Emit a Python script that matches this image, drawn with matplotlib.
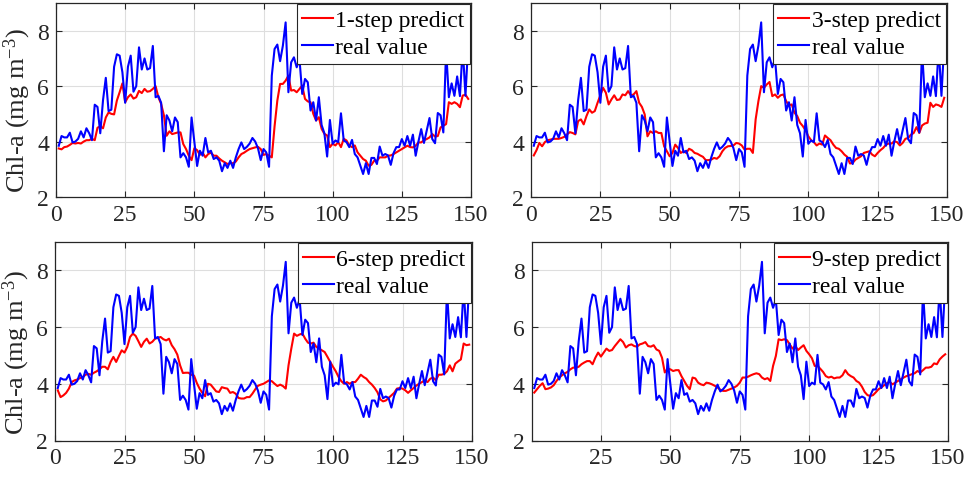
import numpy as np
import matplotlib
matplotlib.use('Agg')
import matplotlib.pyplot as plt

plt.rcParams['font.family'] = ['Liberation Serif', 'DejaVu Serif']
plt.rcParams['mathtext.fontset'] = 'custom'
plt.rcParams['mathtext.rm'] = 'Liberation Serif'
plt.rcParams['mathtext.it'] = 'Liberation Serif:italic'
plt.rcParams['axes.unicode_minus'] = True

# ---------------- data ----------------
real_value = [
    3.85, 4.20, 4.15, 4.15, 4.32, 3.97, 4.00, 4.10, 4.37, 4.15,
    4.48, 4.30, 4.05, 5.33, 5.25, 4.30, 5.50, 6.30, 5.10, 5.15,
    6.70, 7.15, 7.10, 6.50, 5.40, 6.70, 7.10, 5.80, 6.00, 7.40,
    6.60, 7.00, 6.60, 6.65, 7.45, 5.60, 5.65, 5.40, 3.65, 4.95,
    4.76, 4.37, 4.87, 4.70, 3.43, 3.58, 3.43, 3.09, 4.87, 4.00,
    3.12, 3.67, 3.49, 4.13, 3.61, 3.67, 3.37, 3.43, 3.31, 2.93,
    3.22, 3.05, 3.31, 3.05, 3.43, 3.73, 3.97, 3.73, 3.81, 3.93,
    4.13, 4.00, 3.76, 3.33, 3.73, 3.61, 3.09, 6.38, 7.34, 7.50,
    6.90, 7.46, 8.30, 5.78, 6.86, 7.04, 6.68, 6.98, 5.72, 6.26,
    6.14, 5.12, 5.42, 4.76, 5.60, 4.60, 4.30, 3.46, 4.78, 3.92,
    4.04, 3.98, 5.02, 4.04, 3.98, 3.80, 4.06, 3.55, 3.43, 3.13,
    2.83, 3.22, 2.83, 3.41, 3.41, 3.19, 3.82, 3.49, 3.55, 3.50,
    3.16, 3.58, 3.80, 3.80, 4.09, 3.85, 4.20, 3.85, 4.25, 3.49,
    4.00, 4.45, 3.95, 4.40, 4.85, 4.09, 3.94, 5.03, 4.95, 4.33,
    7.30, 5.60, 6.10, 5.65, 6.35, 5.64, 7.40, 5.65, 7.55,
]

pred_1 = [
    3.75, 3.72, 3.80, 3.82, 3.88, 3.95, 3.93, 3.95, 3.93, 4.00,
    4.05, 4.05, 4.10, 4.05, 4.50, 4.55, 4.48, 4.87, 5.05, 5.00,
    4.98, 5.48, 5.78, 6.10, 5.42, 5.60, 5.70, 5.55, 5.60, 5.83,
    5.75, 5.90, 5.80, 5.82, 5.90, 6.00, 5.60, 5.36, 4.95, 4.21,
    4.37, 4.27, 4.30, 4.33, 4.33, 3.91, 3.73, 3.49, 3.33, 3.76,
    3.69, 3.52, 3.60, 3.43, 3.55, 3.60, 3.49, 3.49, 3.39, 3.31,
    3.25, 3.19, 3.22, 3.22, 3.28, 3.43, 3.55, 3.60, 3.67, 3.73,
    3.76, 3.79, 3.81, 3.73, 3.52, 3.55, 3.49, 3.43, 4.55, 5.48,
    6.08, 6.08, 6.20, 6.38, 5.84, 5.86, 5.78, 5.90, 6.02, 5.54,
    5.45, 5.42, 5.00, 4.76, 4.88, 4.46, 4.28, 4.22, 3.80, 3.92,
    3.86, 3.98, 3.80, 4.10, 4.04, 3.86, 3.80, 3.86, 3.61, 3.49,
    3.37, 3.31, 3.13, 3.16, 3.31, 3.31, 3.43, 3.43, 3.43, 3.49,
    3.50, 3.55, 3.61, 3.67, 3.73, 3.79, 3.85, 3.80, 3.79, 3.85,
    3.97, 3.97, 4.05, 4.09, 4.15, 4.27, 4.18, 4.20, 4.51, 4.57,
    4.63, 5.42, 5.36, 5.42, 5.36, 5.24, 5.66, 5.69, 5.54,
]

pred_3 = [
    3.50, 3.69, 3.95, 3.83, 3.98, 4.05, 4.07, 4.10, 4.10, 4.10,
    4.13, 4.17, 4.26, 4.34, 4.31, 4.26, 4.74, 4.80, 4.62, 4.92,
    5.16, 5.04, 5.10, 5.40, 5.67, 5.94, 5.76, 5.34, 5.52, 5.67,
    5.50, 5.52, 5.70, 5.67, 5.82, 5.67, 5.70, 5.82, 5.40, 5.25,
    4.98, 4.19, 4.37, 4.31, 4.37, 4.31, 4.31, 3.83, 3.65, 3.47,
    3.59, 3.89, 3.77, 3.59, 3.65, 3.59, 3.74, 3.69, 3.59, 3.56,
    3.50, 3.45, 3.33, 3.33, 3.35, 3.41, 3.38, 3.47, 3.65, 3.77,
    3.83, 3.84, 3.86, 3.95, 3.93, 3.86, 3.71, 3.74, 3.74, 3.59,
    4.80, 5.46, 6.00, 5.94, 6.06, 6.15, 5.64, 5.70, 5.58, 5.67,
    5.70, 5.46, 5.31, 5.34, 5.04, 4.92, 4.68, 4.56, 4.41, 4.19,
    4.05, 3.98, 3.86, 3.93, 3.89, 4.22, 4.13, 4.05, 3.89, 3.77,
    3.74, 3.65, 3.53, 3.45, 3.21, 3.23, 3.35, 3.41, 3.47, 3.59,
    3.62, 3.65, 3.53, 3.47, 3.59, 3.69, 3.77, 3.89, 3.93, 3.93,
    4.01, 3.98, 3.86, 3.95, 4.10, 4.13, 4.25, 4.31, 4.52, 4.31,
    4.58, 4.65, 4.68, 5.40, 5.25, 5.34, 5.31, 5.25, 5.58,
]

pred_6 = [
    3.77, 3.53, 3.59, 3.68, 3.83, 4.06, 4.12, 4.15, 4.20, 4.24,
    4.32, 4.35, 4.32, 4.39, 4.44, 4.51, 4.60, 4.60, 4.51, 4.77,
    4.95, 4.77, 4.98, 5.18, 5.10, 5.30, 5.65, 5.77, 5.69, 5.50,
    5.30, 5.48, 5.59, 5.42, 5.48, 5.59, 5.62, 5.65, 5.57, 5.53,
    5.59, 5.36, 5.22, 5.03, 4.65, 4.38, 4.39, 4.39, 4.32, 4.29,
    4.03, 3.83, 3.68, 3.56, 4.00, 3.97, 3.85, 3.73, 3.71, 3.88,
    3.85, 3.83, 3.68, 3.71, 3.65, 3.50, 3.48, 3.48, 3.53, 3.53,
    3.65, 3.80, 3.93, 3.97, 4.00, 4.06, 4.12, 4.09, 4.00, 3.92,
    3.97, 3.92, 3.83, 4.65, 5.24, 5.77, 5.69, 5.74, 5.77, 5.59,
    5.45, 5.42, 5.45, 5.30, 5.24, 5.18, 5.12, 4.95, 4.77, 4.60,
    4.44, 4.24, 4.09, 4.00, 4.06, 4.00, 4.06, 4.06, 4.18, 4.32,
    4.24, 4.18, 4.06, 3.97, 3.85, 3.70, 3.45, 3.38, 3.41, 3.50,
    3.59, 3.68, 3.83, 3.85, 3.83, 3.77, 3.68, 3.77, 3.85, 3.94,
    4.00, 4.06, 4.12, 4.06, 4.18, 4.22, 4.12, 4.32, 4.32, 4.35,
    4.44, 4.65, 4.44, 4.71, 4.79, 4.86, 5.42, 5.36, 5.38,
]

pred_9 = [
    3.69, 3.81, 3.93, 4.02, 3.81, 3.83, 3.87, 3.95, 4.10, 4.22,
    4.30, 4.37, 4.42, 4.51, 4.57, 4.57, 4.60, 4.69, 4.75, 4.80,
    4.80, 4.69, 4.92, 5.10, 4.96, 5.10, 5.24, 5.16, 5.19, 5.33,
    5.45, 5.57, 5.47, 5.28, 5.36, 5.39, 5.33, 5.31, 5.39, 5.42,
    5.47, 5.33, 5.31, 5.36, 5.21, 5.16, 4.92, 4.40, 4.53, 4.51,
    4.45, 4.48, 4.48, 4.27, 4.10, 3.93, 3.81, 4.22, 4.19, 4.04,
    3.98, 3.95, 4.04, 4.02, 3.98, 3.93, 3.87, 3.79, 3.75, 3.75,
    3.79, 3.83, 3.87, 3.93, 4.04, 4.22, 4.22, 4.25, 4.30, 4.34,
    4.37, 4.34, 4.22, 4.16, 4.20, 4.10, 4.63, 4.98, 5.57, 5.54,
    5.57, 5.54, 5.39, 5.24, 5.33, 5.19, 5.28, 5.36, 5.16, 5.04,
    4.90, 4.63, 4.63, 4.53, 4.42, 4.27, 4.22, 4.25, 4.19, 4.22,
    4.22, 4.30, 4.48, 4.34, 4.27, 4.22, 4.10, 4.04, 3.90, 3.71,
    3.60, 3.57, 3.60, 3.70, 3.81, 3.87, 3.95, 4.02, 4.07, 3.98,
    4.04, 4.10, 4.16, 4.22, 4.27, 4.30, 4.34, 4.37, 4.45, 4.40,
    4.48, 4.57, 4.57, 4.60, 4.72, 4.69, 4.86, 4.96, 5.04,
]

pred_labels = ['1-step predict', '3-step predict', '6-step predict', '9-step predict']
real_label = 'real value'
y_label = 'Chl-a (mg m$^{-3}$)'
x_ticks = [0, 25, 50, 75, 100, 125, 150]
x_ticks_last = [25, 50, 75, 100, 125, 150]
y_ticks = [2, 4, 6, 8]

steps = np.arange(1, len(real_value) + 1)
preds = [pred_1, pred_3, pred_6, pred_9]

# ---------------- figure ----------------
W, H = 970, 481
fig = plt.figure(figsize=(W / 100, H / 100), dpi=100)

def px_axes(l, t, r, b):
    return fig.add_axes([l / W, 1 - b / H, (r - l) / W, (b - t) / H])

boxes = [(56, 4, 471, 198), (531, 4, 947, 198),
         (55, 243, 472, 441.5), (531.5, 243, 948, 441.5)]

FS = 17
dark = '#262626'

for i, (box, pred, lab) in enumerate(zip(boxes, preds, pred_labels)):
    ax = px_axes(*box)
    ax.plot(steps, pred, color='#ff0000', lw=1.5, label=lab, zorder=3)
    ax.plot(steps, real_value, color='#0000ff', lw=1.5, label=real_label, zorder=3)
    ax.set_xlim(0, 150)
    ax.set_ylim(2, 9)
    ax.set_xticks(x_ticks_last if i == 3 else x_ticks)
    ax.set_yticks(y_ticks)
    ax.grid(True, color='#dedede', lw=0.8, zorder=0)
    ax.set_axisbelow(True)
    ax.tick_params(direction='in', length=4, width=0.8, colors=dark,
                   labelsize=FS, top=True, right=True, pad=5)
    for s in ax.spines.values():
        s.set_color(dark)
        s.set_linewidth(0.9)
    if i in (0, 2):
        ax.set_ylabel(y_label, fontsize=19, color=dark)
        ax.yaxis.set_label_coords(-0.056, 0.45)
    leg = ax.legend(loc='upper right', fontsize=FS, frameon=True, fancybox=False,
                    framealpha=1, edgecolor=dark, borderaxespad=0.05,
                    handlelength=1.3, handletextpad=0.1, borderpad=0.22,
                    labelspacing=0.25)
    leg.get_frame().set_linewidth(0.8)
    leg.set_zorder(5)

fig.savefig('out.png', dpi=100)
